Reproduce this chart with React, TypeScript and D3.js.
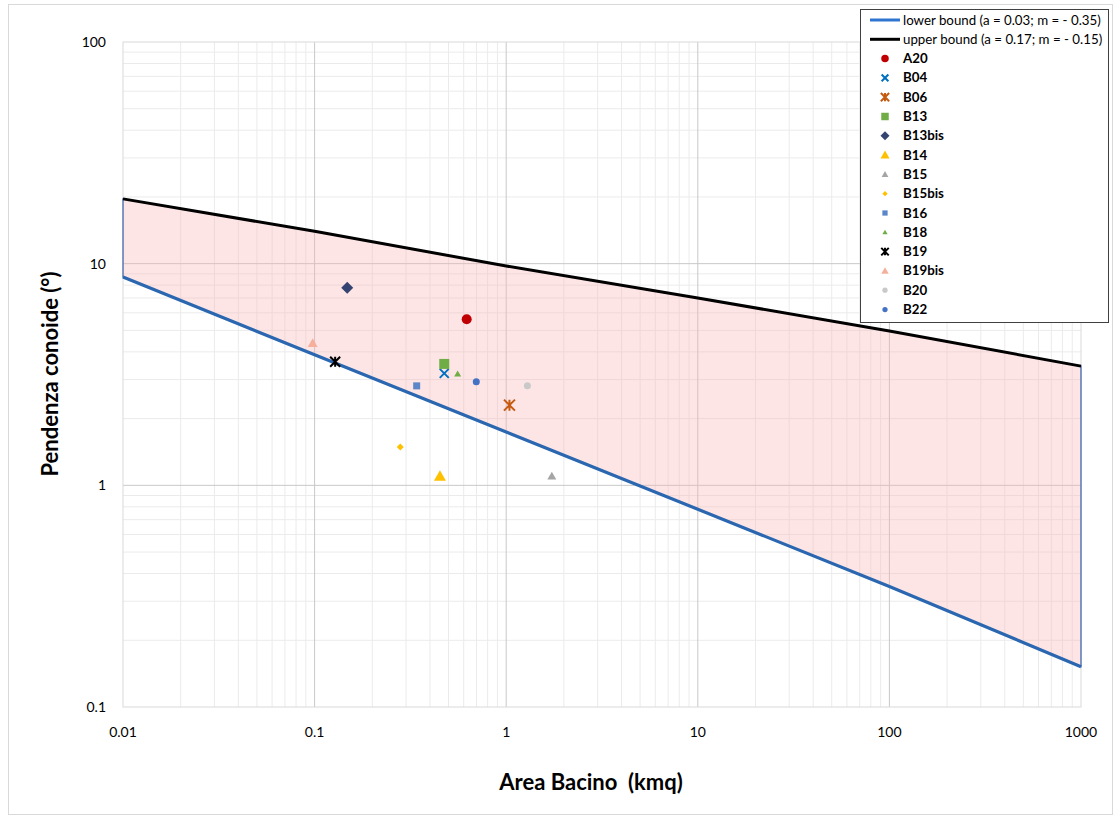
import * as d3 from "d3";

// dati
const boundArea = [0.01, 0.1, 1, 10, 100, 1000];
const lowerBound = [8.7, 3.88, 1.74, 0.78, 0.35, 0.152];
const upperBound = [19.6, 14.0, 9.76, 7.0, 4.97, 3.45];

const basins = ["A20", "B04", "B06", "B13", "B13bis", "B14", "B15", "B15bis", "B16", "B18", "B19", "B19bis", "B20", "B22"];
const basinArea = [0.622, 0.475, 1.04, 0.475, 0.148, 0.451, 1.73, 0.28, 0.341, 0.558, 0.128, 0.0977, 1.29, 0.698];
const basinSlope = [5.61, 3.2, 2.3, 3.53, 7.79, 1.1, 1.1, 1.49, 2.81, 3.18, 3.61, 4.37, 2.81, 2.93];

const xTicks = [0.01, 0.1, 1, 10, 100, 1000];
const yTicks = [0.1, 1, 10, 100];

// stile dei marker
const markerStyle: Record<string, { shape: string; size: number; color: string }> = {
  A20: { shape: "circle", size: 10, color: "#c00000" },
  B04: { shape: "x", size: 9, color: "#0070c0" },
  B06: { shape: "star", size: 11, color: "#c55a11" },
  B13: { shape: "square", size: 10, color: "#70ad47" },
  B13bis: { shape: "diamond", size: 12, color: "#334472" },
  B14: { shape: "triangle", size: 12, color: "#ffc000" },
  B15: { shape: "triangle", size: 9, color: "#a5a5a5" },
  B15bis: { shape: "diamond", size: 7, color: "#ffc000" },
  B16: { shape: "square", size: 7, color: "#5b87c8" },
  B18: { shape: "triangle", size: 7, color: "#70ad47" },
  B19: { shape: "star", size: 10, color: "#000000" },
  B19bis: { shape: "triangle", size: 10, color: "#f4b09c" },
  B20: { shape: "circle", size: 7, color: "#c9c9c9" },
  B22: { shape: "circle", size: 7, color: "#4472c4" },
};

const margin = { left: 123, top: 42, right: 1116 - 1081, bottom: 818 - 707 };
const W = 1116;
const H = 818;
const font = "Lato, 'Liberation Sans', sans-serif";

function markerPath(shape: string, s: number) {
  const h = s / 2;
  switch (shape) {
    case "circle":
      return `M${-h},0A${h},${h} 0 1,0 ${h},0A${h},${h} 0 1,0 ${-h},0Z`;
    case "square":
      return `M${-h},${-h}H${h}V${h}H${-h}Z`;
    case "diamond":
      return `M0,${-h}L${h},0L0,${h}L${-h},0Z`;
    case "triangle":
      return `M0,${-h}L${h},${h * 0.75}L${-h},${h * 0.75}Z`;
    case "x":
      return `M${-h},${-h}L${h},${h}M${h},${-h}L${-h},${h}`;
    case "star":
      return `M${-h},${-h}L${h},${h}M${h},${-h}L${-h},${h}M0,${-h}L0,${h}`;
  }
  return "";
}

function Marker({ name, x, y, scale = 1 }: { name: string; x: number; y: number; scale?: number }) {
  const st = markerStyle[name];
  const stroked = st.shape === "x" || st.shape === "star";
  return (
    <path
      d={markerPath(st.shape, st.size * scale)}
      transform={`translate(${x},${y})`}
      fill={stroked ? "none" : st.color}
      stroke={stroked ? st.color : "none"}
      strokeWidth={stroked ? 2 : 0}
    />
  );
}

export default function App() {
  const x = d3.scaleLog().domain([0.01, 1000]).range([margin.left, W - margin.right]);
  const y = d3.scaleLog().domain([0.1, 100]).range([H - margin.bottom, margin.top]);

  // griglia minore
  const minorX: number[] = [];
  for (let d = 0.01; d < 1000; d *= 10) for (let k = 2; k < 10; k++) minorX.push(d * k);
  const minorY: number[] = [];
  for (let d = 0.1; d < 100; d *= 10) for (let k = 2; k < 10; k++) minorY.push(d * k);

  const pts = boundArea.map((a, i) => ({ a, lo: lowerBound[i], up: upperBound[i] }));
  const lineLo = d3.line<any>().x(d => x(d.a)).y(d => y(d.lo));
  const lineUp = d3.line<any>().x(d => x(d.a)).y(d => y(d.up));
  const area = d3.area<any>().x(d => x(d.a)).y0(d => y(d.lo)).y1(d => y(d.up));

  const x0 = margin.left;
  const x1 = W - margin.right;
  const y0 = margin.top;
  const y1 = H - margin.bottom;

  const legendX = 860;
  const legendY = 9;
  const rowH = 19.3;

  return (
    <svg width={W} height={H} style={{ position: "absolute", left: 0, top: 0, display: "block", background: "#fff" }}>
      <rect x={8.5} y={4.5} width={1104} height={810} fill="#fff" stroke="#d9d9d9" />

      {/* griglia */}
      {minorX.map((v, i) => (
        <line key={"mx" + i} x1={x(v)} x2={x(v)} y1={y0} y2={y1} stroke="#ebebeb" strokeWidth={1} />
      ))}
      {minorY.map((v, i) => (
        <line key={"my" + i} x1={x0} x2={x1} y1={y(v)} y2={y(v)} stroke="#ebebeb" strokeWidth={1} />
      ))}
      {xTicks.slice(1, -1).map(v => (
        <line key={"gx" + v} x1={x(v)} x2={x(v)} y1={y0} y2={y1} stroke="#c8c8c8" strokeWidth={1} />
      ))}
      {yTicks.slice(1, -1).map(v => (
        <line key={"gy" + v} x1={x0} x2={x1} y1={y(v)} y2={y(v)} stroke="#c8c8c8" strokeWidth={1} />
      ))}
      <rect x={x0} y={y0} width={x1 - x0} height={y1 - y0} fill="none" stroke="#d9d9d9" />

      {/* fascia tra i limiti */}
      <path d={area(pts) || ""} fill="#f8b4b4" fillOpacity={0.35} stroke="#3a64b0" strokeWidth={1.2} />
      <path d={lineUp(pts) || ""} fill="none" stroke="#000" strokeWidth={3} />
      <path d={lineLo(pts) || ""} fill="none" stroke="#2a67b0" strokeWidth={3.2} />

      {/* bacini */}
      {basins.map((b, i) => (
        <Marker key={b} name={b} x={x(basinArea[i])} y={y(basinSlope[i])} />
      ))}

      {/* etichette assi */}
      {xTicks.map(v => (
        <text key={"tx" + v} x={x(v)} y={y1 + 30} textAnchor="middle" fontFamily={font} fontSize={14} fill="#000">
          {String(v)}
        </text>
      ))}
      {yTicks.map(v => (
        <text key={"ty" + v} x={106} y={y(v) + 5} textAnchor="end" fontFamily={font} fontSize={14} fill="#000">
          {String(v)}
        </text>
      ))}
      <text x={591} y={790} textAnchor="middle" fontFamily={font} fontSize={22} fontWeight="bold" fill="#000" style={{ whiteSpace: "pre" }}>
        {"Area Bacino  (kmq)"}
      </text>
      <text
        transform={`translate(58,374) rotate(-90)`}
        textAnchor="middle"
        fontFamily={font}
        fontSize={22}
        fontWeight="bold"
        fill="#000"
      >
        Pendenza conoide (°)
      </text>

      {/* legenda */}
      <rect x={legendX + 0.5} y={legendY + 0.5} width={248} height={313} fill="#fff" stroke="#404040" />
      <line x1={870} x2={900} y1={legendY + 11} y2={legendY + 11} stroke="#2e75d0" strokeWidth={3} />
      <text x={903} y={legendY + 15.5} fontFamily={font} fontSize={13.3} fill="#000">
        lower bound (a = 0.03; m = - 0.35)
      </text>
      <line x1={870} x2={900} y1={legendY + 11 + rowH} y2={legendY + 11 + rowH} stroke="#000" strokeWidth={3} />
      <text x={903} y={legendY + 15.5 + rowH} fontFamily={font} fontSize={13.3} fill="#000">
        upper bound (a = 0.17; m = - 0.15)
      </text>
      {basins.map((b, i) => {
        const cy = legendY + 11 + rowH * (i + 2);
        return (
          <g key={"lg" + b}>
            <Marker name={b} x={885} y={cy} scale={0.75} />
            <text x={903} y={cy + 4.5} fontFamily={font} fontSize={13.3} fontWeight="bold" fill="#000">
              {b}
            </text>
          </g>
        );
      })}
    </svg>
  );
}
